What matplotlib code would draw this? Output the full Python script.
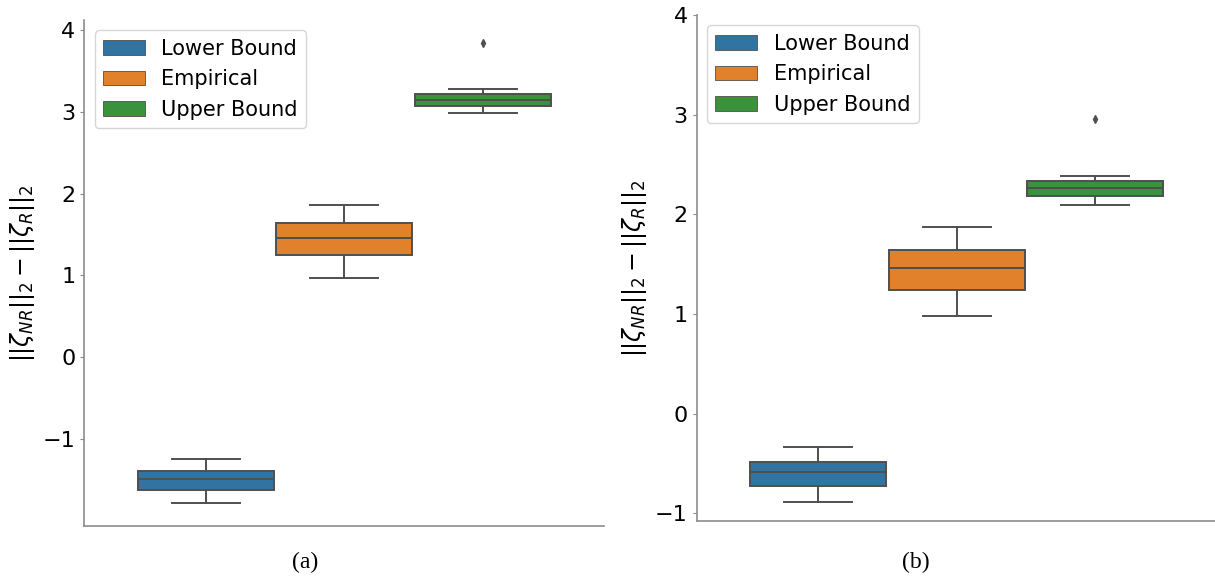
import matplotlib
matplotlib.use("Agg")
import matplotlib.pyplot as plt
from matplotlib.patches import Patch

labels = ["Lower Bound", "Empirical", "Upper Bound"]
colors = ["#3274a1", "#e1812c", "#3a923a"]

# panel (a)
a_whislo = [-1.78, 0.973, 2.982]
a_q1 = [-1.62, 1.249, 3.068]
a_med = [-1.486, 1.451, 3.149]
a_q3 = [-1.396, 1.635, 3.22]
a_whishi = [-1.243, 1.865, 3.276]
a_fliers = [[], [], [3.84]]

# panel (b)
b_whislo = [-0.881, 0.978, 2.096]
b_q1 = [-0.722, 1.244, 2.181]
b_med = [-0.585, 1.459, 2.267]
b_q3 = [-0.485, 1.644, 2.337]
b_whishi = [-0.337, 1.87, 2.381]
b_fliers = [[], [], [2.959]]

yticks = [-1, 0, 1, 2, 3, 4]
line_c = "#4f4f4f"
ylabel = r"$||\zeta_{NR}||_2 - ||\zeta_R||_2$"

plt.rcParams["font.size"] = 15


def draw_panel(ax, whislo, q1, med, q3, whishi, fliers):
    stats = []
    for i in range(len(labels)):
        stats.append(dict(med=med[i], q1=q1[i], q3=q3[i], whislo=whislo[i],
                          whishi=whishi[i], fliers=fliers[i], label=labels[i]))
    n = len(labels)
    w = 0.8 / n
    pos = [-0.4 + w * (i + 0.5) for i in range(n)]
    bp = ax.bxp(stats, positions=pos, widths=w * 0.98, patch_artist=True,
                manage_ticks=False,
                boxprops=dict(linewidth=1.4, edgecolor=line_c),
                medianprops=dict(color=line_c, linewidth=1.4),
                whiskerprops=dict(color=line_c, linewidth=1.4),
                capprops=dict(color=line_c, linewidth=1.4),
                flierprops=dict(marker="d", markersize=4, markerfacecolor=line_c,
                                markeredgecolor=line_c))
    for box, c in zip(bp["boxes"], colors):
        box.set_facecolor(c)
    ax.set_xlim(-0.5, 0.5)
    ax.set_xticks([])
    ax.set_ylabel(ylabel, fontsize=17)
    for s in ["top", "right"]:
        ax.spines[s].set_visible(False)
    for s in ["left", "bottom"]:
        ax.spines[s].set_color("0.55")
        ax.spines[s].set_linewidth(1.2)
    ax.tick_params(axis="y", length=3, color="0.55", labelsize=16)
    handles = [Patch(facecolor=c, edgecolor=line_c, linewidth=0.6, label=l)
               for c, l in zip(colors, labels)]
    ax.legend(handles=handles, loc="upper left", fontsize=15)


fig = plt.figure(figsize=(12.15, 5.77), dpi=100)
ax1 = fig.add_axes([0.0694, 0.0889, 0.428, 0.8764])
ax2 = fig.add_axes([0.5734, 0.0976, 0.428, 0.8764])

draw_panel(ax1, a_whislo, a_q1, a_med, a_q3, a_whishi, a_fliers)
ax1.set_yticks(yticks)

draw_panel(ax2, b_whislo, b_q1, b_med, b_q3, b_whishi, b_fliers)
ax2.set_ylim(top=4)
ax2.set_yticks(yticks)

fig.text(305 / 1215, 1 - 562 / 577, "(a)", family="Liberation Serif",
         fontsize=17, ha="center", va="center")
fig.text(916 / 1215, 1 - 562 / 577, "(b)", family="Liberation Serif",
         fontsize=17, ha="center", va="center")

plt.savefig("out.png", dpi=100)
